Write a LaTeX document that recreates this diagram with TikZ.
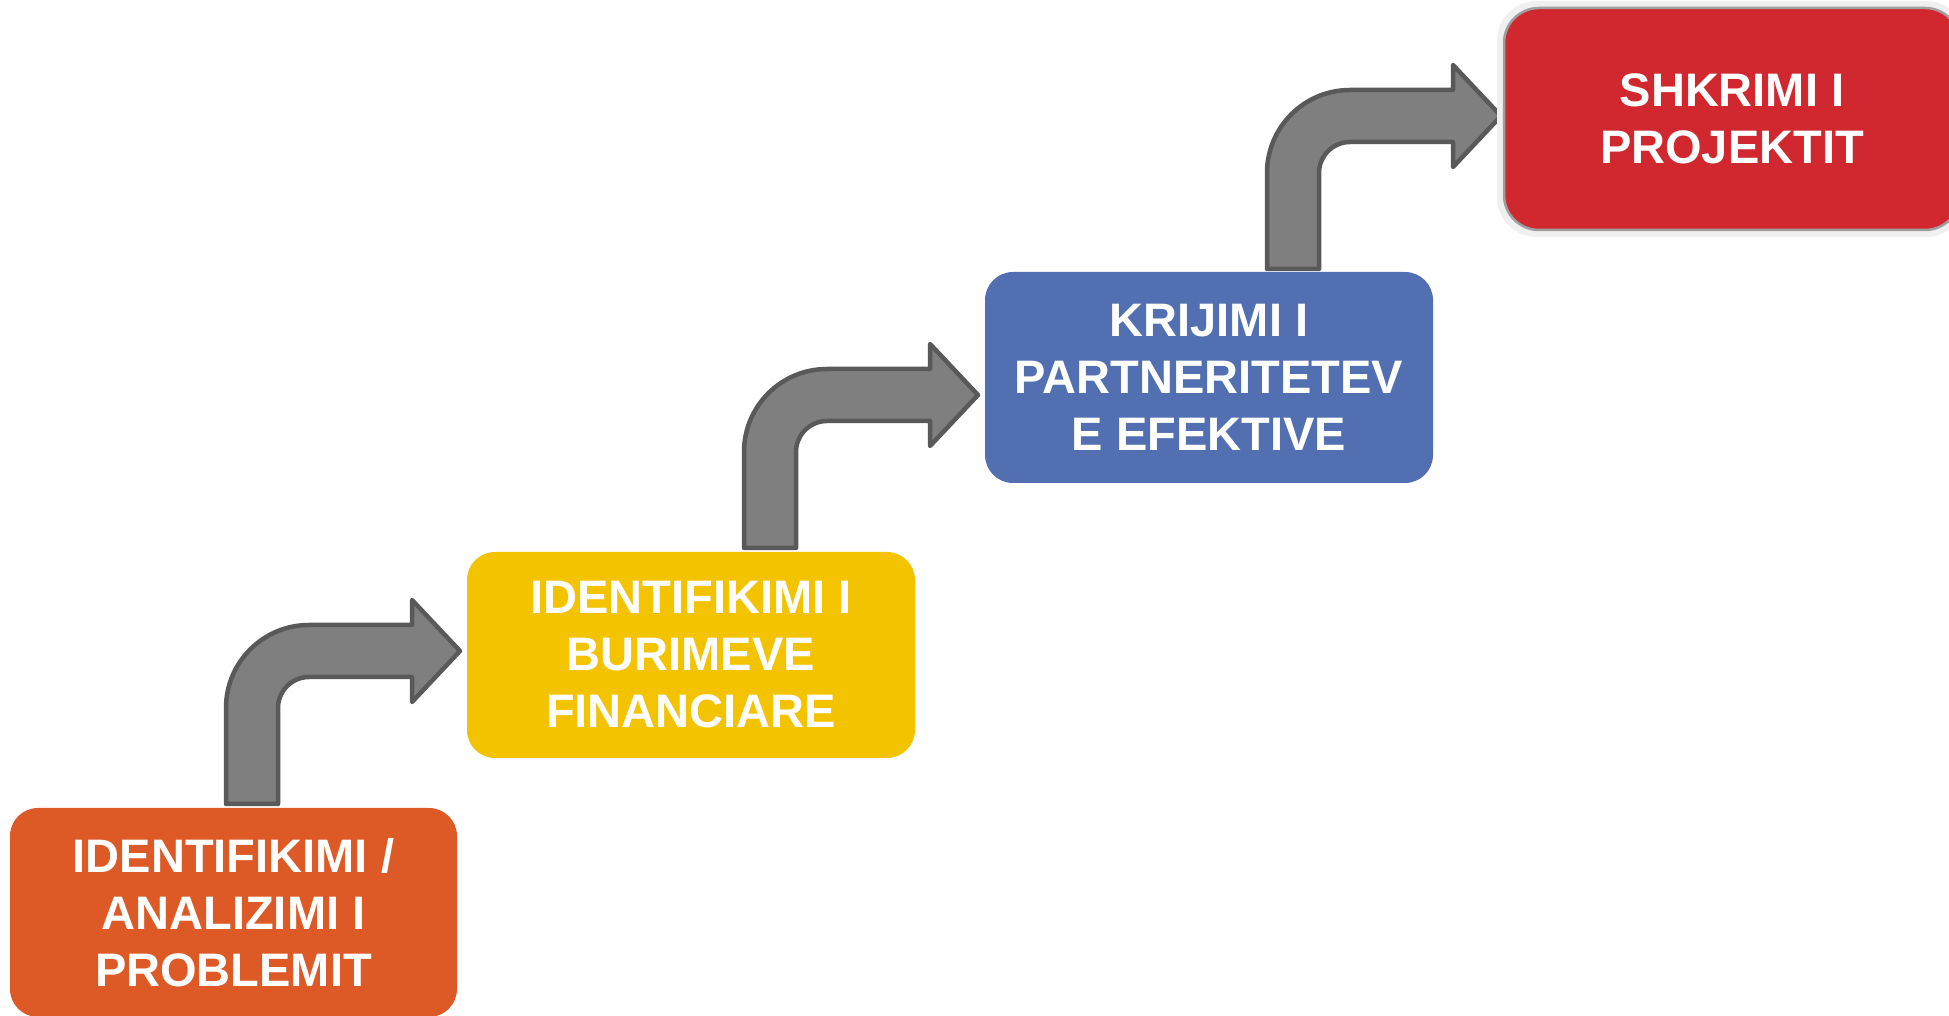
\documentclass[tikz,border=0pt]{standalone}
\usepackage{fontspec}
\setmainfont{Liberation Sans}
\definecolor{cOrange}{RGB}{221,90,38}
\definecolor{cYellow}{RGB}{243,195,0}
\definecolor{cBlue}{RGB}{82,111,178}
\definecolor{cRed}{RGB}{208,40,46}
\definecolor{arrowFill}{RGB}{127,127,127}
\definecolor{arrowLine}{RGB}{89,89,89}
\tikzset{
  stepbox/.style={rectangle, rounded corners=28pt, inner sep=0pt, align=center,
    text=white, font=\fontsize{47}{57}\selectfont\bfseries},
  arrowstyle/.style={fill=arrowFill, draw=arrowLine, line width=4.5pt, line join=round},
  bentarrow/.pic={
    \path[arrowstyle] (1,0) -- (1,96) arc[start angle=180,end angle=90,radius=83]
      -- (187,179) -- (187,204) -- (235,153) -- (187,102) -- (187,127) -- (84,127)
      arc[start angle=90,end angle=180,radius=31] -- (53,0) -- cycle;
  }
}
\begin{document}
\begin{tikzpicture}[x=1pt,y=1pt]
\useasboundingbox (0,0) rectangle (1949,1015);
\clip (0,0) rectangle (1949,1015);
\fill[white] (0,0) rectangle (1949,1015);

% arrows
\pic at (225,211) {bentarrow};
\pic at (743,467) {bentarrow};
\pic at (1266,746) {bentarrow};

% boxes
\node[stepbox, fill=cOrange, minimum width=447pt, minimum height=209pt] (b1) at (233.5,102.5)
  {IDENTIFIKIMI /\\ANALIZIMI I\\PROBLEMIT};
\node[stepbox, fill=cYellow, minimum width=448pt, minimum height=206pt] (b2) at (691,360)
  {IDENTIFIKIMI I\\BURIMEVE\\FINANCIARE};
\node[stepbox, fill=cBlue, minimum width=448pt, minimum height=211pt] (b3) at (1209,637.5)
  {KRIJIMI I\\PARTNERITETEV\\E EFEKTIVE};
\fill[gray!12, rounded corners=40pt] (1497,778) rectangle (1966,1014);
\node[stepbox, fill=cRed, draw=gray!75, line width=2.5pt, rounded corners=35pt,
  minimum width=456pt, minimum height=222pt] (b4) at (1732,896)
  {SHKRIMI I\\PROJEKTIT};
\end{tikzpicture}
\end{document}
